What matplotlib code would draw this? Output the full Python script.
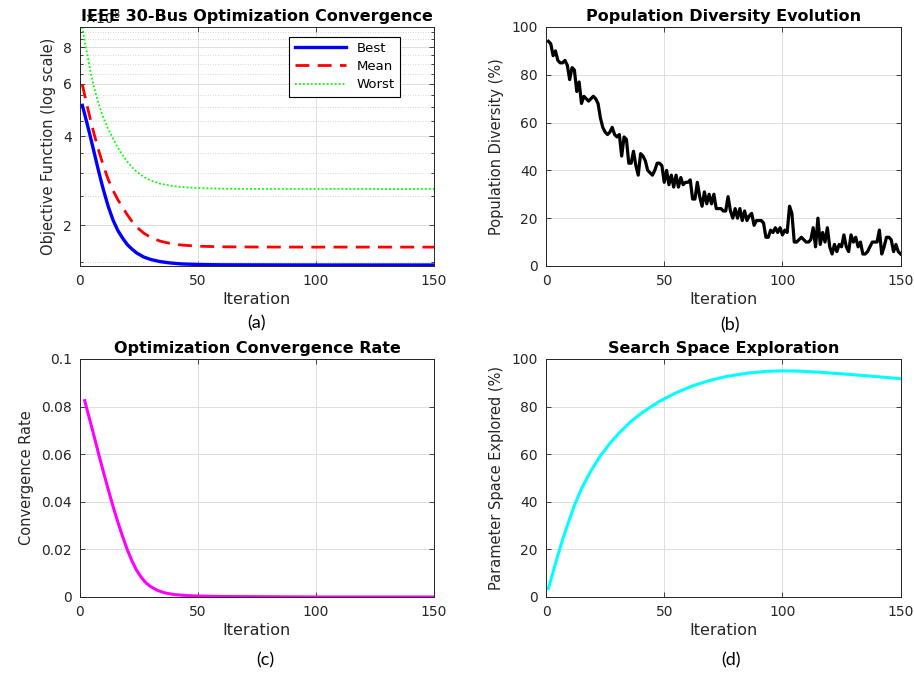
import matplotlib
matplotlib.use("Agg")
import matplotlib.pyplot as plt
import numpy as np
from matplotlib.ticker import FixedLocator, FuncFormatter, NullFormatter

# (a) objective function, values in units of 1e8
iter_a = [1, 2, 3, 4, 5, 6, 7, 8, 9, 10, 12, 14, 16, 18, 20, 22, 24, 27, 30,
          34, 38, 43, 50, 60, 75, 100, 150]
best = [5.08, 4.74, 4.41, 4.10, 3.80, 3.52, 3.26, 3.02, 2.81, 2.62, 2.31, 2.08,
        1.92, 1.81, 1.72, 1.66, 1.61, 1.56, 1.53, 1.505, 1.49, 1.478, 1.472,
        1.468, 1.467, 1.466, 1.466]
mean = [5.97, 5.50, 5.08, 4.70, 4.36, 4.06, 3.80, 3.56, 3.35, 3.16, 2.85, 2.62,
        2.44, 2.30, 2.17, 2.06, 1.97, 1.88, 1.815, 1.765, 1.735, 1.712, 1.697,
        1.689, 1.686, 1.685, 1.685]
worst = [9.35, 8.40, 7.60, 6.90, 6.30, 5.85, 5.45, 5.12, 4.84, 4.60, 4.22, 3.92,
         3.66, 3.45, 3.28, 3.14, 3.03, 2.91, 2.83, 2.76, 2.72, 2.69, 2.668,
         2.655, 2.65, 2.65, 2.65]

# (b) population diversity (%), iterations 1..150
diversity = [94, 93, 88, 90, 86, 85, 85, 86, 84, 78, 83, 82, 73, 77, 68, 71, 70, 69, 70, 71,
             70, 68, 62, 58, 56, 55, 56, 58, 55, 54, 55, 46, 54, 53, 43, 43, 48, 42, 38, 47,
             46, 44, 40, 39, 38, 40, 43, 43, 42, 35, 40, 34, 38, 33, 38, 33, 37, 34, 35, 35,
             36, 28, 28, 35, 29, 25, 31, 26, 30, 26, 30, 24, 24, 24, 23, 23, 29, 23, 20, 24,
             20, 24, 19, 23, 19, 21, 22, 17, 19, 19, 19, 18, 12, 12, 15, 14, 16, 14, 16, 13,
             15, 14, 25, 22, 10, 10, 11, 12, 11, 10, 10, 11, 16, 8, 20, 9, 14, 10, 16, 8,
             5, 9, 6, 9, 8, 13, 8, 6, 13, 10, 12, 8, 10, 5, 5, 6, 8, 10, 10, 10,
             15, 5, 8, 12, 12, 11, 6, 9, 6, 5]
iter_b = list(range(1, len(diversity) + 1))

# (c) convergence rate
iter_c = [2, 4, 6, 8, 10, 12, 14, 16, 18, 20, 22, 24, 26, 28, 30, 33, 36, 40, 45,
          50, 60, 80, 100, 150]
conv_rate = [0.0825, 0.0750, 0.0675, 0.0597, 0.0523, 0.0451, 0.0381, 0.0316,
             0.0256, 0.0200, 0.0152, 0.0112, 0.0082, 0.0059, 0.0043, 0.0027,
             0.0017, 0.0010, 0.0006, 0.0004, 0.0002, 0.0001, 0.0, 0.0]

# (d) parameter space explored (%)
iter_d = [1, 3, 5, 7, 9, 12, 15, 19, 23, 27, 31, 36, 41, 48, 55, 62, 69, 76, 85,
          93, 100, 107, 116, 126, 136, 150]
explored = [3.5, 10.5, 17.5, 24.0, 30.0, 38.5, 45.5, 53.0, 59.3, 64.5, 69.0, 73.8,
            77.7, 82.2, 85.8, 88.7, 90.9, 92.6, 94.0, 94.8, 95.0, 94.9, 94.4,
            93.7, 92.9, 91.7]

x_ticks = [0, 50, 100, 150]
DARK = "#262626"

fig = plt.figure(figsize=(9.14, 6.75), dpi=100)


def style_axes(ax):
    ax.tick_params(which="both", direction="in", top=True, right=True,
                   colors=DARK, labelsize=10, pad=6, length=3.5, width=0.6)
    ax.tick_params(which="minor", length=2)
    for s in ax.spines.values():
        s.set_color(DARK)
        s.set_linewidth(0.7)
    ax.grid(True, which="major", color="#dedede", linewidth=0.7)
    ax.set_axisbelow(True)
    ax.set_xlim(0, 150)
    ax.set_xticks(x_ticks)
    ax.set_xlabel("Iteration", fontsize=11.5, color=DARK, labelpad=3)


def fmt(v, pos):
    return f"{v:g}"


# (a)
ax_a = fig.add_axes([0.0875, 0.606, 0.3873, 0.354])
ax_a.plot(iter_a, np.array(best) * 1e8, color="#0000ff", lw=2.4, label="Best")
ax_a.plot(iter_a, np.array(mean) * 1e8, color="#ff0000", lw=2, dashes=(5, 3),
          label="Mean")
ax_a.plot(iter_a, np.array(worst) * 1e8, color="#00ff00", lw=1.3,
          linestyle=(0, (1, 1.2)), label="Worst")
ax_a.set_yscale("log")
ax_a.set_ylim(1.455e8, 9.35e8)
ax_a.yaxis.set_major_locator(FixedLocator([2e8, 4e8, 6e8, 8e8]))
ax_a.yaxis.set_major_formatter(FuncFormatter(lambda v, p: f"{v / 1e8:g}"))
minor_vals = [m * 1e8 for m in np.arange(1.5, 9.01, 0.5) if m not in (2, 4, 6, 8)]
ax_a.yaxis.set_minor_locator(FixedLocator(minor_vals))
ax_a.yaxis.set_minor_formatter(NullFormatter())
style_axes(ax_a)
ax_a.grid(True, which="minor", axis="y", color="#c8c8c8", linewidth=0.6,
          linestyle=(0, (1, 2)))
ax_a.set_ylabel("Objective Function (log scale)", fontsize=10.5, color=DARK,
                labelpad=5)
ax_a.set_title("IEEE 30-Bus Optimization Convergence", fontsize=11.5,
               fontweight="bold", pad=4)
ax_a.text(0.012, 1.0, r"$\times10^{8}$", transform=ax_a.transAxes, ha="left",
          va="bottom", fontsize=10, color=DARK)
leg = ax_a.legend(loc="upper right", bbox_to_anchor=(0.904, 0.96), fontsize=9.5,
                  fancybox=False, edgecolor="black", framealpha=1,
                  handlelength=3.9, labelspacing=0.4, borderpad=0.4,
                  handletextpad=0.8, borderaxespad=0)
leg.get_frame().set_linewidth(0.8)

# (b)
ax_b = fig.add_axes([0.5974, 0.606, 0.388, 0.354])
ax_b.plot(iter_b, diversity, color="black", lw=2.3)
style_axes(ax_b)
ax_b.set_ylim(0, 100)
ax_b.set_yticks([0, 20, 40, 60, 80, 100])
ax_b.set_ylabel("Population Diversity (%)", fontsize=10.5, color=DARK, labelpad=5)
ax_b.set_title("Population Diversity Evolution", fontsize=11.5,
               fontweight="bold", pad=4)

# (c)
ax_c = fig.add_axes([0.0875, 0.1156, 0.3873, 0.3526])
ax_c.plot(iter_c, conv_rate, color="#ff00ff", lw=2.2)
style_axes(ax_c)
ax_c.set_ylim(0, 0.1)
ax_c.set_yticks([0, 0.02, 0.04, 0.06, 0.08, 0.1])
ax_c.yaxis.set_major_formatter(FuncFormatter(fmt))
ax_c.set_ylabel("Convergence Rate", fontsize=10.5, color=DARK, labelpad=5)
ax_c.set_title("Optimization Convergence Rate", fontsize=11.5,
               fontweight="bold", pad=4)

# (d)
ax_d = fig.add_axes([0.5974, 0.1156, 0.388, 0.3526])
ax_d.plot(iter_d, explored, color="#00ffff", lw=2.2)
style_axes(ax_d)
ax_d.set_ylim(0, 100)
ax_d.set_yticks([0, 20, 40, 60, 80, 100])
ax_d.set_ylabel("Parameter Space Explored (%)", fontsize=10.5, color=DARK,
                labelpad=5)
ax_d.set_title("Search Space Exploration", fontsize=11.5, fontweight="bold",
               pad=4)

# panel letters
for lab, x, y in [("(a)", 256, 323), ("(b)", 730, 325), ("(c)", 265, 660),
                  ("(d)", 731, 660)]:
    fig.text(x / 914, 1 - y / 675, lab, ha="center", va="center",
             fontsize=13, family="Lato", color="black")

fig.savefig("out.png", dpi=100)
